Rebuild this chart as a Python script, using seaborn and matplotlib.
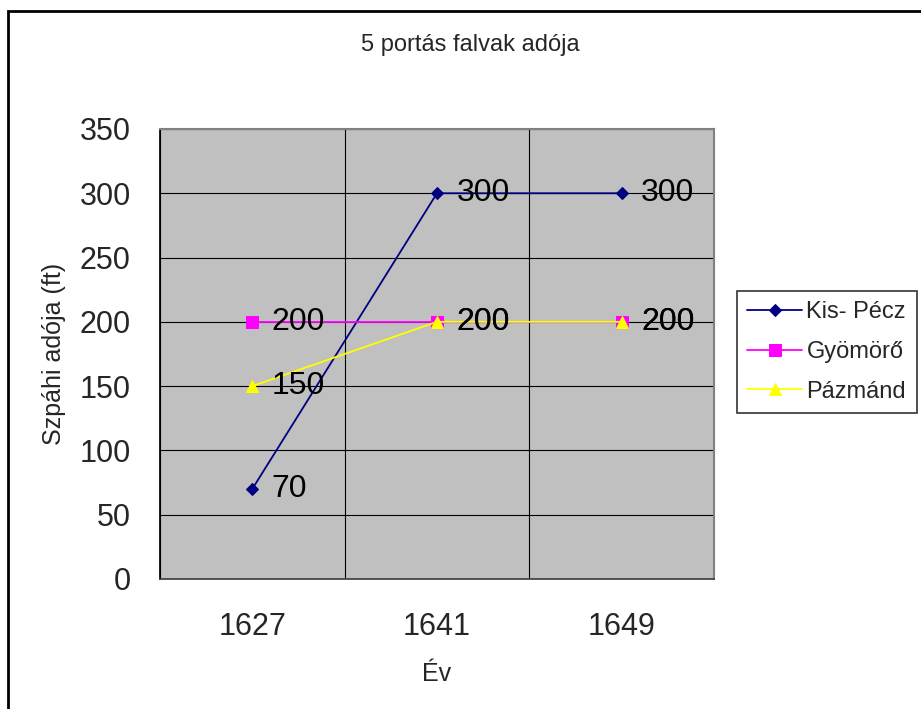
import seaborn as sns
import matplotlib.pyplot as plt
import matplotlib.patches as mpatches
import pandas as pd

years = ["1627", "1641", "1649"]
kis_pecz = [70, 300, 300]
gyomoro = [200, 200, 200]
pazmand = [150, 200, 200]
series_names = ["Kis- Pécz", "Gyömörő", "Pázmánd"]
y_ticks = [0, 50, 100, 150, 200, 250, 300, 350]

df = pd.DataFrame({
    "year": years * 3,
    "value": kis_pecz + gyomoro + pazmand,
    "series": [s for s in series_names for _ in years],
})

sns.set_theme(style="white")
plt.rcParams["font.family"] = ["Liberation Sans", "DejaVu Sans"]

fig = plt.figure(figsize=(9.21, 7.09), dpi=100)
ax = fig.add_axes([0.1737, 0.1834, 0.6015, 0.6347])
ax.set_facecolor("#C0C0C0")

colors = {"Kis- Pécz": "#000080", "Gyömörő": "#FF00FF", "Pázmánd": "#FFFF00"}
markers = {"Kis- Pécz": "D", "Gyömörő": "s", "Pázmánd": "^"}
sizes = {"Kis- Pécz": 6, "Gyömörő": 8, "Pázmánd": 9}

for name in series_names:
    sub = df[df.series == name]
    sns.lineplot(data=sub, x="year", y="value", ax=ax, color=colors[name],
                 marker=markers[name], markersize=sizes[name],
                 markeredgecolor=colors[name], linewidth=1.3, label=name,
                 legend=False)
    for x, v in zip(sub.year, sub.value):
        ax.annotate(str(v), (x, v), xytext=(14, 0), textcoords="offset points",
                    ha="left", va="center", fontsize=23, color="black")

ax.set_xlim(-0.5, 2.5)
ax.set_ylim(0, 350)
ax.set_yticks(y_ticks)
ax.set_xticks([0, 1, 2])
ax.set_xticklabels(years)
ax.set_xticks([-0.5, 0.5, 1.5, 2.5], minor=True)
ax.tick_params(axis="x", which="major", length=0, pad=24, labelsize=22)
ax.tick_params(axis="x", which="minor", length=8, width=1, color="black", direction="out")
ax.tick_params(axis="y", length=8, width=1, color="#404040", direction="out", pad=13, labelsize=22)
ax.grid(True, axis="y", which="major", color="black", linewidth=0.8)
ax.grid(True, axis="x", which="minor", color="black", linewidth=0.8)
ax.set_axisbelow(True)

for side in ["top", "right"]:
    ax.spines[side].set_color("#808080")
    ax.spines[side].set_linewidth(1.5)
ax.spines["left"].set_color("black")
ax.spines["bottom"].set_color("#404040")

ax.set_xlabel("Év", fontsize=18, labelpad=14)
ax.set_ylabel("Szpáhi adója (ft)", fontsize=18, labelpad=10)
fig.text(0.511, 0.936, "5 portás falvak adója", ha="center", va="center", fontsize=17)

handles, labels = ax.get_legend_handles_labels()
leg = fig.legend(handles, labels, loc="upper left", bbox_to_anchor=(0.800, 0.590),
                 fontsize=17, frameon=True, fancybox=False, borderpad=0.45,
                 handlelength=2.3, handletextpad=0.2, labelspacing=0.75,
                 borderaxespad=0)
leg.get_frame().set_edgecolor("black")
leg.get_frame().set_linewidth(1.2)

fig.patches.append(mpatches.Rectangle((0.0087, -0.1), 1.2, 1.0845, transform=fig.transFigure,
                                      fill=False, edgecolor="black", linewidth=2))

fig.savefig("out.png", dpi=100)
